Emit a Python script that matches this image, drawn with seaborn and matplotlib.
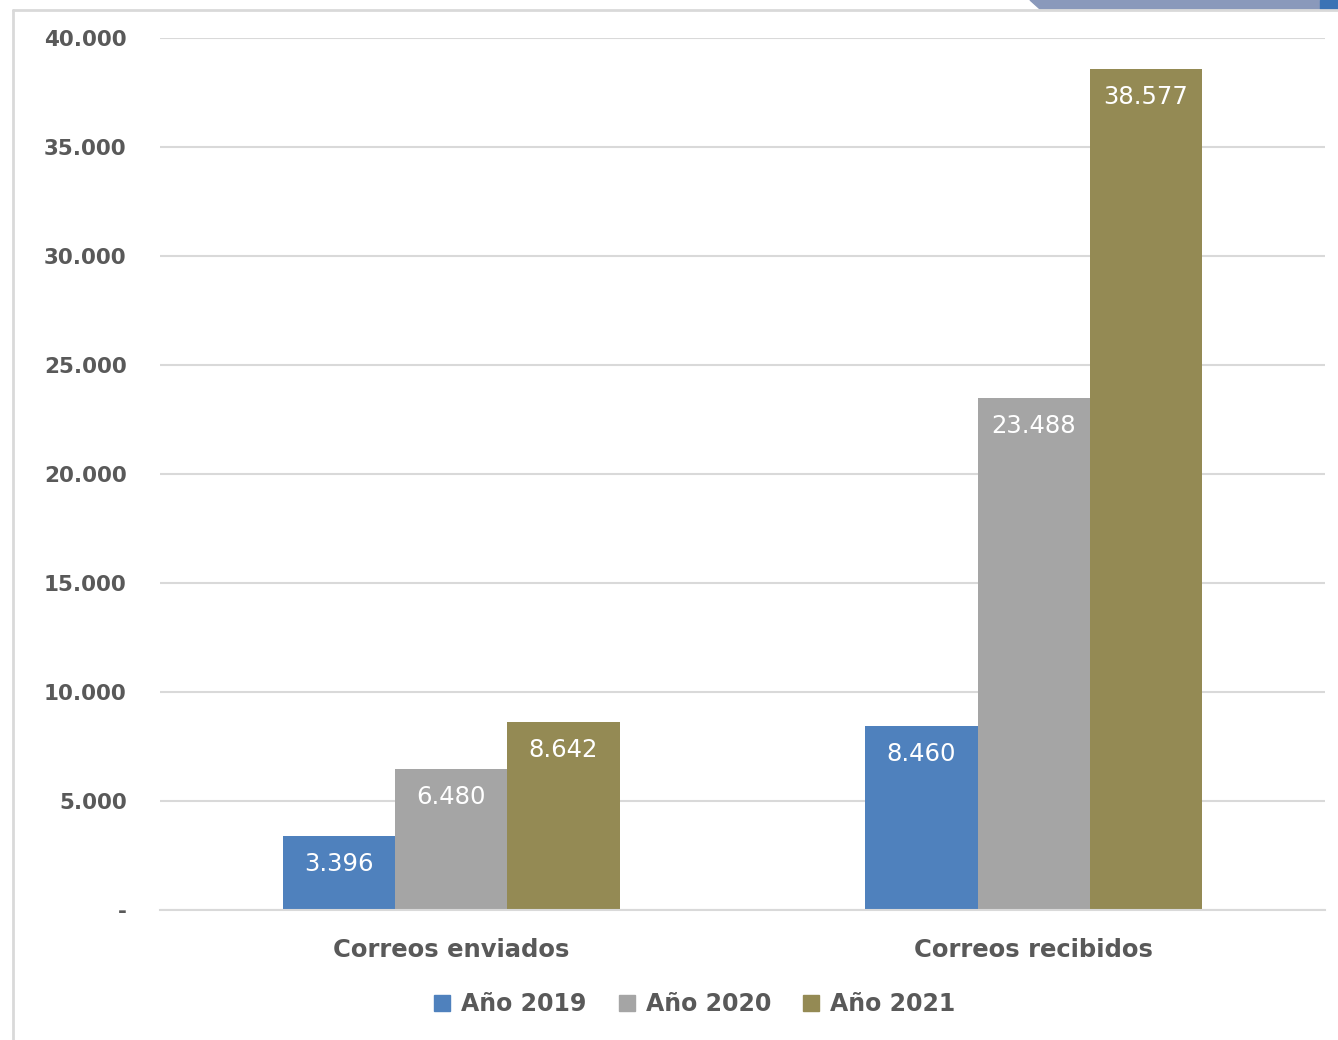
import pandas as pd
import matplotlib
matplotlib.use("Agg")
import matplotlib.pyplot as plt
import seaborn as sns
from matplotlib.patches import Rectangle, Polygon
from matplotlib.lines import Line2D

# Data
categories = ["Correos enviados", "Correos recibidos"]
years = ["Año 2019", "Año 2020", "Año 2021"]
vals_2019 = [3396, 8460]
vals_2020 = [6480, 23488]
vals_2021 = [8642, 38577]
colors = ["#4F81BD", "#A5A5A5", "#948A54"]
y_ticks = [0, 5000, 10000, 15000, 20000, 25000, 30000, 35000, 40000]

df = pd.DataFrame({
    "categoria": categories * 3,
    "anio": [years[0]] * 2 + [years[1]] * 2 + [years[2]] * 2,
    "valor": vals_2019 + vals_2020 + vals_2021,
})

def fmt(v):
    # thousands separator as dot, zero shown as dash
    if v == 0:
        return "-"
    return f"{int(v):,}".replace(",", ".")

sns.set_style("white")
plt.rcParams["font.family"] = ["DejaVu Sans"]

fig = plt.figure(figsize=(13.38, 10.40), dpi=100)
ax = fig.add_axes([160 / 1338, 1 - 910 / 1040, (1325 - 160) / 1338, (910 - 38) / 1040])

sns.barplot(data=df, x="categoria", y="valor", hue="anio", palette=colors,
            width=0.578, gap=0, saturation=1, linewidth=0, ax=ax, legend=False)

ax.set_xlim(-0.5, 1.5)
ax.set_ylim(0, 40000)
ax.set_yticks(y_ticks)
ax.set_yticklabels([fmt(t) for t in y_ticks], fontsize=15.5, color="#595959",
                   fontweight="bold")
ax.tick_params(axis="y", length=0, pad=24)
ax.tick_params(axis="x", length=0, pad=20)
for lab in ax.get_xticklabels():
    lab.set_fontsize(17.5)
    lab.set_color("#595959")
    lab.set_fontweight("bold")
ax.set_xlabel("")
ax.set_ylabel("")
ax.grid(axis="y", color="#D9D9D9", linewidth=1.5)
ax.set_axisbelow(True)
for s in ["top", "right", "left"]:
    ax.spines[s].set_visible(False)
ax.spines["bottom"].set_color("#D9D9D9")
ax.spines["bottom"].set_linewidth(1.5)

# value labels inside top of bars
for cont in ax.containers:
    ax.bar_label(cont, labels=[fmt(v) for v in cont.datavalues], label_type="edge",
                 padding=-29, color="white", fontsize=17.5)

# legend
handles = [Line2D([0], [0], marker="s", linestyle="", markersize=11,
                  markerfacecolor=c, markeredgecolor=c) for c in colors]
fig.legend(handles, years, loc="center", bbox_to_anchor=(687 / 1338, 1 - 1004 / 1040),
           ncol=3, frameon=False, prop={"size": 17, "weight": "bold"},
           handletextpad=-0.2, columnspacing=0.7, labelcolor="#595959")

# frame of the screenshot
fig.add_artist(Line2D([13 / 1338, 13 / 1338], [0, 1 - 10 / 1040], color="#D9D9D9", lw=2,
                      transform=fig.transFigure))
fig.add_artist(Line2D([13 / 1338, 1], [1 - 10 / 1040, 1 - 10 / 1040], color="#D9D9D9", lw=2,
                      transform=fig.transFigure))
# decoration piece at top right
fig.add_artist(Polygon([[1030 / 1338, 1], [1040 / 1338, 1 - 9 / 1040], [1338 / 1338, 1 - 9 / 1040],
                        [1338 / 1338, 1]], closed=True, color="#8A99BB",
                       transform=fig.transFigure))
fig.add_artist(Rectangle((1320 / 1338, 1 - 9 / 1040), 18 / 1338, 9 / 1040, color="#3B73B5",
                         transform=fig.transFigure))

fig.savefig("out.png", dpi=100)
